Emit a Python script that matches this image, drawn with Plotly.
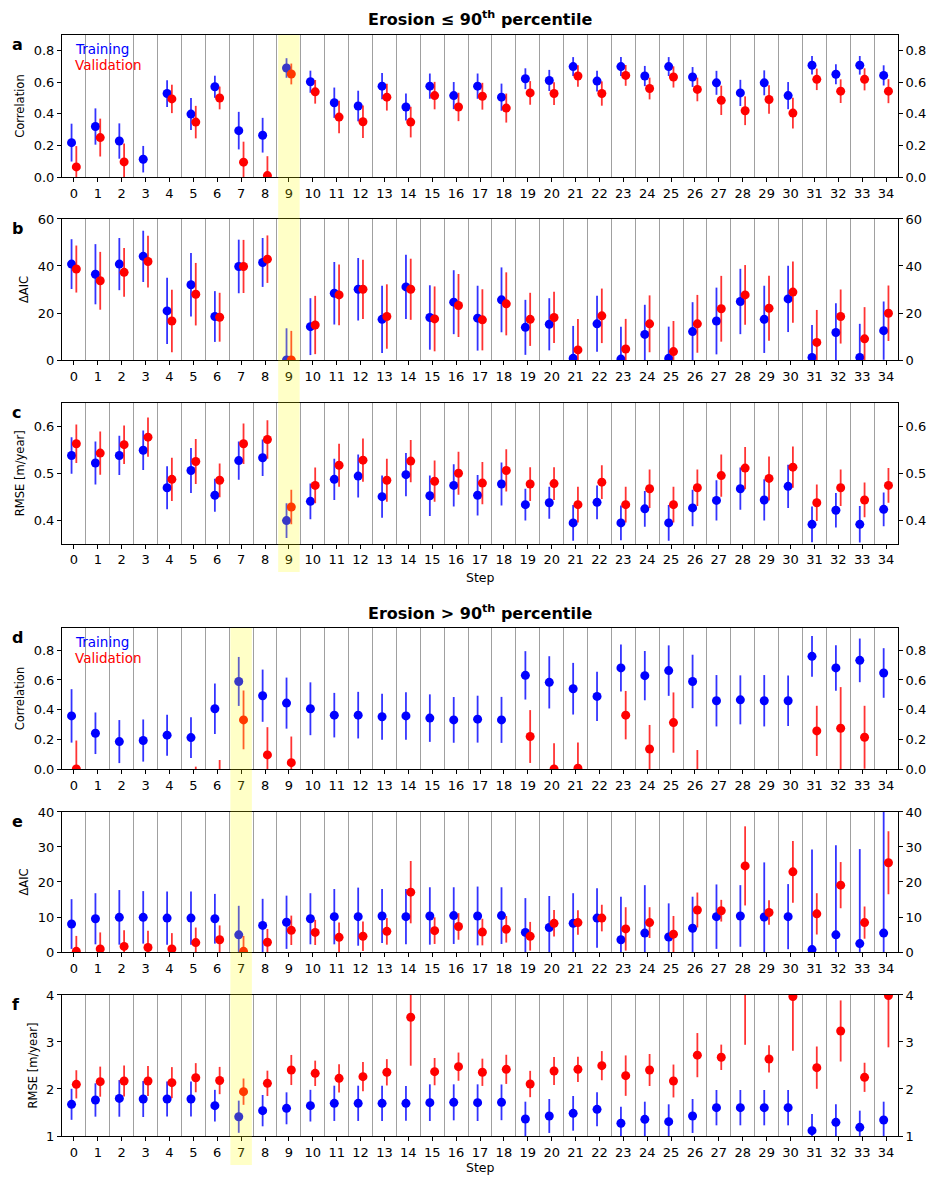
import plotly.graph_objects as go
import numpy as np

steps = list(range(35))
tick_labels = [str(s) for s in steps]
highlight_lo = 9
highlight_hi = 7

# ---------------- Erosion <= 90th percentile ----------------
corr_lo_train = [0.218, 0.32, 0.228, 0.113, 0.529, 0.399, 0.572, 0.294, 0.265, 0.691, 0.604, 0.471, 0.45, 0.576, 0.444, 0.576, 0.516, 0.576, 0.506, 0.623, 0.612, 0.70, 0.608, 0.70, 0.64, 0.70, 0.634, 0.597, 0.533, 0.597, 0.516, 0.708, 0.651, 0.708, 0.644]
corr_lo_train_err = [0.12, 0.115, 0.112, 0.084, 0.085, 0.101, 0.07, 0.119, 0.11, 0.062, 0.07, 0.096, 0.097, 0.083, 0.086, 0.08, 0.086, 0.08, 0.086, 0.066, 0.067, 0.06, 0.066, 0.06, 0.064, 0.06, 0.063, 0.076, 0.083, 0.079, 0.086, 0.059, 0.063, 0.059, 0.064]
corr_lo_val = [0.064, 0.25, 0.096, None, 0.495, 0.348, 0.501, 0.094, 0.009, 0.653, 0.54, 0.38, 0.35, 0.506, 0.348, 0.516, 0.444, 0.512, 0.437, 0.533, 0.529, 0.64, 0.529, 0.644, 0.561, 0.634, 0.555, 0.486, 0.42, 0.491, 0.405, 0.619, 0.544, 0.619, 0.544]
corr_lo_val_err = [0.132, 0.12, 0.117, None, 0.09, 0.103, 0.072, 0.13, 0.123, 0.066, 0.075, 0.103, 0.103, 0.085, 0.097, 0.087, 0.09, 0.085, 0.092, 0.075, 0.072, 0.068, 0.077, 0.066, 0.069, 0.067, 0.075, 0.093, 0.091, 0.09, 0.097, 0.068, 0.075, 0.07, 0.076]

aic_lo_train = [40.8, 36.5, 40.8, 44.1, 20.9, 32.0, 18.5, 39.8, 41.5, 0.0, 14.2, 28.4, 30.1, 17.3, 31.1, 18.1, 24.6, 17.8, 25.6, 13.9, 15.2, 0.7, 15.4, 0.4, 10.9, 0.7, 12.1, 16.6, 24.9, 17.3, 26.0, 1.1, 11.7, 1.1, 12.5]
aic_lo_train_err = [10.6, 12.8, 11.1, 10.9, 14.1, 13.5, 10.8, 11.4, 10.4, 13.5, 12.1, 13.3, 13.3, 14.3, 13.7, 13.7, 13.6, 13.8, 13.8, 11.7, 11.1, 13.8, 11.9, 13.7, 12.6, 13.5, 12.5, 14.2, 13.9, 14.3, 14.1, 13.8, 12.5, 14.3, 12.4]
aic_lo_val = [38.7, 33.7, 37.3, 41.9, 16.6, 28.0, 18.2, 39.8, 42.9, 0.0, 14.9, 27.7, 30.1, 18.5, 30.1, 17.5, 23.2, 17.1, 23.9, 17.3, 18.1, 4.3, 18.8, 4.7, 15.4, 3.6, 15.4, 21.8, 27.7, 22.0, 28.9, 7.5, 18.5, 9.0, 19.9]
aic_lo_val_err = [10.0, 12.3, 10.4, 11.0, 13.3, 13.3, 10.4, 11.3, 10.1, 12.4, 12.4, 12.9, 12.6, 13.7, 13.0, 13.8, 13.4, 13.0, 13.4, 11.3, 10.9, 13.2, 11.6, 12.8, 12.1, 13.0, 12.3, 14.0, 12.7, 13.8, 13.0, 13.8, 11.5, 13.5, 11.8]

rmse_lo_train = [0.538, 0.522, 0.538, 0.549, 0.469, 0.506, 0.453, 0.527, 0.533, 0.399, 0.44, 0.487, 0.494, 0.450, 0.497, 0.452, 0.474, 0.453, 0.477, 0.433, 0.437, 0.394, 0.438, 0.394, 0.424, 0.394, 0.426, 0.442, 0.467, 0.443, 0.472, 0.391, 0.421, 0.391, 0.423]
rmse_lo_train_err = [0.039, 0.046, 0.042, 0.042, 0.046, 0.048, 0.035, 0.041, 0.039, 0.037, 0.038, 0.044, 0.046, 0.045, 0.046, 0.043, 0.045, 0.043, 0.046, 0.034, 0.034, 0.038, 0.036, 0.037, 0.038, 0.038, 0.039, 0.043, 0.045, 0.044, 0.046, 0.038, 0.037, 0.039, 0.036]
rmse_lo_val = [0.563, 0.543, 0.561, 0.577, 0.487, 0.525, 0.485, 0.563, 0.572, 0.428, 0.474, 0.517, 0.528, 0.485, 0.526, 0.483, 0.500, 0.479, 0.506, 0.477, 0.478, 0.433, 0.481, 0.433, 0.467, 0.433, 0.469, 0.495, 0.511, 0.489, 0.513, 0.437, 0.469, 0.443, 0.474]
rmse_lo_val_err = [0.041, 0.046, 0.041, 0.042, 0.046, 0.048, 0.036, 0.043, 0.041, 0.037, 0.038, 0.046, 0.046, 0.046, 0.045, 0.044, 0.046, 0.045, 0.045, 0.036, 0.035, 0.038, 0.036, 0.038, 0.041, 0.038, 0.039, 0.045, 0.045, 0.047, 0.044, 0.039, 0.039, 0.037, 0.037]

# ---------------- Erosion > 90th percentile ----------------
corr_hi_train = [0.358, 0.241, 0.185, 0.192, 0.228, 0.212, 0.406, 0.59, 0.494, 0.444, 0.406, 0.363, 0.363, 0.352, 0.358, 0.343, 0.331, 0.336, 0.331, 0.631, 0.584, 0.541, 0.489, 0.681, 0.629, 0.663, 0.59, 0.46, 0.466, 0.46, 0.46, 0.759, 0.681, 0.732, 0.647]
corr_hi_train_err = [0.18, 0.14, 0.145, 0.142, 0.138, 0.137, 0.17, 0.165, 0.176, 0.172, 0.178, 0.15, 0.157, 0.155, 0.16, 0.16, 0.154, 0.158, 0.155, 0.163, 0.176, 0.174, 0.166, 0.158, 0.166, 0.17, 0.18, 0.173, 0.165, 0.173, 0.17, 0.137, 0.153, 0.147, 0.167]
corr_hi_val = [0.0, None, None, None, None, -0.15, -0.11, 0.331, 0.095, 0.043, None, None, None, None, None, None, None, None, None, 0.219, 0.0, 0.005, None, 0.363, 0.135, 0.313, -0.05, None, None, None, None, 0.257, 0.275, 0.214, None]
corr_hi_val_err = [0.192, None, None, None, None, 0.166, 0.171, 0.198, 0.187, 0.176, None, None, None, None, None, None, None, None, None, 0.178, 0.174, 0.173, None, 0.163, 0.162, 0.203, 0.178, None, None, None, None, 0.169, 0.277, 0.212, None]

aic_hi_train = [8.0, 9.5, 9.9, 9.9, 9.7, 9.7, 9.5, 4.9, 7.6, 8.5, 9.5, 10.1, 10.1, 10.3, 10.1, 10.3, 10.4, 10.3, 10.4, 5.6, 7.0, 8.2, 9.7, 3.5, 5.4, 4.3, 6.8, 10.1, 10.3, 10.0, 10.1, 0.7, 4.9, 2.4, 5.4]
aic_hi_train_err = [7.1, 7.3, 7.8, 7.5, 7.6, 7.6, 7.1, 8.3, 7.6, 7.6, 7.3, 7.9, 8.3, 7.7, 7.9, 8.2, 8.1, 8.4, 8.1, 9.8, 9.0, 8.6, 8.5, 12.3, 13.7, 9.6, 9.0, 9.2, 8.8, 15.6, 9.3, 28.6, 25.6, 27.0, 36.0]
aic_hi_val = [0.2, 0.9, 1.6, 1.3, 0.9, 2.7, 3.5, 0.2, 2.8, 6.2, 5.6, 4.2, 4.5, 5.9, 17.1, 6.1, 7.3, 5.7, 6.5, 4.5, 8.2, 8.4, 9.7, 6.6, 8.4, 5.1, 12.0, 11.8, 24.6, 11.3, 22.9, 10.9, 19.1, 8.4, 25.5]
aic_hi_val_err = [4.4, 4.7, 4.6, 4.8, 4.5, 4.3, 4.1, 4.4, 3.8, 4.2, 3.6, 4.2, 4.2, 3.8, 8.9, 3.8, 3.8, 3.8, 3.8, 4.1, 3.8, 3.5, 3.8, 6.2, 4.4, 5.2, 5.0, 3.1, 11.3, 3.5, 8.8, 5.9, 6.6, 4.6, 9.0]

rmse_hi_train = [1.674, 1.766, 1.80, 1.787, 1.787, 1.787, 1.645, 1.41, 1.539, 1.589, 1.645, 1.695, 1.695, 1.695, 1.695, 1.709, 1.716, 1.709, 1.716, 1.362, 1.426, 1.482, 1.567, 1.27, 1.355, 1.305, 1.426, 1.603, 1.603, 1.603, 1.603, 1.113, 1.291, 1.184, 1.34]
rmse_hi_train_err = [0.33, 0.355, 0.39, 0.383, 0.37, 0.37, 0.337, 0.342, 0.333, 0.34, 0.337, 0.375, 0.375, 0.375, 0.37, 0.39, 0.383, 0.39, 0.38, 0.368, 0.361, 0.369, 0.362, 0.354, 0.375, 0.369, 0.361, 0.376, 0.376, 0.376, 0.376, 0.355, 0.383, 0.355, 0.39]
rmse_hi_val = [2.099, 2.156, 2.17, 2.17, 2.135, 2.24, 2.18, 1.943, 2.12, 2.404, 2.333, 2.227, 2.262, 2.355, 3.525, 2.369, 2.475, 2.355, 2.418, 2.106, 2.383, 2.418, 2.496, 2.284, 2.404, 2.17, 2.72, 2.674, 4.5, 2.638, 3.965, 2.454, 3.234, 2.248, 3.986]
rmse_hi_val_err = [0.30, 0.32, 0.33, 0.32, 0.33, 0.31, 0.29, 0.28, 0.27, 0.32, 0.27, 0.30, 0.31, 0.28, 1.03, 0.29, 0.30, 0.29, 0.31, 0.28, 0.30, 0.27, 0.31, 0.43, 0.34, 0.35, 0.47, 0.27, 1.56, 0.29, 1.15, 0.45, 0.65, 0.31, 1.1]

panels = [
    dict(letter="a", ylabel="Correlation", tr=corr_lo_train, tre=corr_lo_train_err, va=corr_lo_val, vae=corr_lo_val_err,
         yrange=[0, 0.9], ytick=[0, 0.2, 0.4, 0.6, 0.8], ytext=["0.0", "0.2", "0.4", "0.6", "0.8"], dom=[0.8710, 1.0]),
    dict(letter="b", ylabel="ΔAIC", tr=aic_lo_train, tre=aic_lo_train_err, va=aic_lo_val, vae=aic_lo_val_err,
         yrange=[0, 60], ytick=[0, 20, 40, 60], ytext=["0", "20", "40", "60"], dom=[0.7048, 0.8329]),
    dict(letter="c", ylabel="RMSE [m/year]", tr=rmse_lo_train, tre=rmse_lo_train_err, va=rmse_lo_val, vae=rmse_lo_val_err,
         yrange=[0.35, 0.65], ytick=[0.4, 0.5, 0.6], ytext=["0.4", "0.5", "0.6"], dom=[0.5381, 0.6658]),
    dict(letter="d", ylabel="Correlation", tr=corr_hi_train, tre=corr_hi_train_err, va=corr_hi_val, vae=corr_hi_val_err,
         yrange=[0, 0.95], ytick=[0, 0.2, 0.4, 0.6, 0.8], ytext=["0.0", "0.2", "0.4", "0.6", "0.8"], dom=[0.3333, 0.4614]),
    dict(letter="e", ylabel="ΔAIC", tr=aic_hi_train, tre=aic_hi_train_err, va=aic_hi_val, vae=aic_hi_val_err,
         yrange=[0, 40], ytick=[0, 10, 20, 30, 40], ytext=["0", "10", "20", "30", "40"], dom=[0.1671, 0.2943]),
    dict(letter="f", ylabel="RMSE [m/year]", tr=rmse_hi_train, tre=rmse_hi_train_err, va=rmse_hi_val, vae=rmse_hi_val_err,
         yrange=[1, 4], ytick=[1, 2, 3, 4], ytext=["1", "2", "3", "4"], dom=[0.0, 0.1281]),
]

FONT = "DejaVu Sans"
BLUE = "#0000ff"
RED = "#ff0000"
offset = 0.1
x_arr = np.array(steps, dtype=float)

fig = go.Figure()
# page body has an 8px margin; figure sized/offset so plot area sits at x 62-898, y 35-1136
layout = dict(
    width=927, height=1169,
    margin=dict(l=54, r=37, t=27, b=41, autoexpand=False),
    paper_bgcolor="white", plot_bgcolor="white",
    showlegend=False,
    font=dict(family=FONT, size=13, color="black"),
)
annotations = []

for i, p in enumerate(panels):
    n = i + 1
    xa = "x" if n == 1 else f"x{n}"
    ya = "y" if n == 1 else f"y{n}"
    yr = f"y{n + 6}"
    xkey = "xaxis" if n == 1 else f"xaxis{n}"
    ykey = "yaxis" if n == 1 else f"yaxis{n}"
    yrkey = f"yaxis{n + 6}"

    fig.add_trace(go.Scatter(
        x=x_arr - offset, y=p["tr"], mode="markers", xaxis=xa, yaxis=ya,
        marker=dict(color=BLUE, size=9),
        error_y=dict(type="data", array=p["tre"], symmetric=True, width=0,
                     thickness=1.8, color="rgba(0,0,255,0.8)"),
        hoverinfo="skip"))
    fig.add_trace(go.Scatter(
        x=x_arr + offset, y=p["va"], mode="markers", xaxis=xa, yaxis=ya,
        marker=dict(color=RED, size=9),
        error_y=dict(type="data", array=p["vae"], symmetric=True, width=0,
                     thickness=1.8, color="rgba(255,0,0,0.8)"),
        hoverinfo="skip"))
    fig.add_trace(go.Scatter(x=[None], y=[None], xaxis=xa, yaxis=yr,
                             showlegend=False, hoverinfo="skip"))

    layout[xkey] = dict(
        domain=[0, 1], anchor=ya, range=[-0.5, 34.5], automargin=False,
        tickmode="array", tickvals=steps, ticktext=tick_labels,
        ticks="outside", ticklen=4, tickcolor="black", tickwidth=1,
        showgrid=False, zeroline=False,
        showline=True, linecolor="black", linewidth=1, mirror=True,
        tickfont=dict(family=FONT, size=13),
        minor=dict(tick0=0.5, dtick=1, showgrid=True, gridcolor="#a0a0a0",
                   gridwidth=1, ticks=""),
    )
    layout[ykey] = dict(
        domain=p["dom"], anchor=xa, range=p["yrange"], automargin=False,
        tickmode="array", tickvals=p["ytick"], ticktext=p["ytext"],
        ticks="outside", ticklen=4, tickcolor="black", tickwidth=1,
        showgrid=False, zeroline=False,
        showline=True, linecolor="black", linewidth=1, mirror=True,
        tickfont=dict(family=FONT, size=13),
        title=dict(text=p["ylabel"], font=dict(family=FONT, size=11.5), standoff=6),
    )
    layout[yrkey] = dict(
        overlaying=ya, side="right", anchor=xa, range=p["yrange"], automargin=False,
        tickmode="array", tickvals=p["ytick"], ticktext=p["ytext"],
        ticks="outside", ticklen=4, tickcolor="black", tickwidth=1,
        showgrid=False, zeroline=False, showline=False,
        tickfont=dict(family=FONT, size=13),
    )
    annotations.append(dict(
        text=f"<b>{p['letter']}</b>", xref="paper", yref="paper",
        x=-0.062, y=p["dom"][1] + 0.002, xanchor="left", yanchor="top",
        showarrow=False, font=dict(family=FONT, size=16, color="black")))

# Legend-like text labels
for dom_top in (1.0, 0.4614):
    annotations.append(dict(text="Training", xref="paper", yref="paper", x=0.013, y=dom_top - 0.0035,
                            xanchor="left", yanchor="top", showarrow=False,
                            font=dict(family=FONT, size=13.5, color=BLUE)))
    annotations.append(dict(text="Validation", xref="paper", yref="paper", x=0.013, y=dom_top - 0.0185,
                            xanchor="left", yanchor="top", showarrow=False,
                            font=dict(family=FONT, size=13.5, color=RED)))

# Titles
annotations.append(dict(text="<b>Erosion ≤ 90<sup>th</sup> percentile</b>", xref="paper", yref="paper",
                        x=0.5, y=1.0154, xanchor="center", yanchor="middle", showarrow=False,
                        font=dict(family=FONT, size=16, color="black")))
annotations.append(dict(text="<b>Erosion > 90<sup>th</sup> percentile</b>", xref="paper", yref="paper",
                        x=0.5, y=0.4759, xanchor="center", yanchor="middle", showarrow=False,
                        font=dict(family=FONT, size=16, color="black")))
# x-axis labels
for yy in (0.5077, -0.029):
    annotations.append(dict(text="Step", xref="paper", yref="paper", x=0.5, y=yy,
                            xanchor="center", yanchor="middle", showarrow=False,
                            font=dict(family=FONT, size=12.5, color="black")))

layout["annotations"] = annotations
layout["shapes"] = [
    dict(type="rect", xref="x", yref="paper", x0=highlight_lo - 0.45, x1=highlight_lo + 0.45,
         y0=0.5123, y1=1.0, fillcolor="rgba(255,255,0,0.22)", line=dict(width=0), layer="above"),
    dict(type="rect", xref="x4", yref="paper", x0=highlight_hi - 0.45, x1=highlight_hi + 0.45,
         y0=-0.0263, y1=0.4614, fillcolor="rgba(255,255,0,0.22)", line=dict(width=0), layer="above"),
]

fig.update_layout(**layout)
fig.write_html("out.html")
